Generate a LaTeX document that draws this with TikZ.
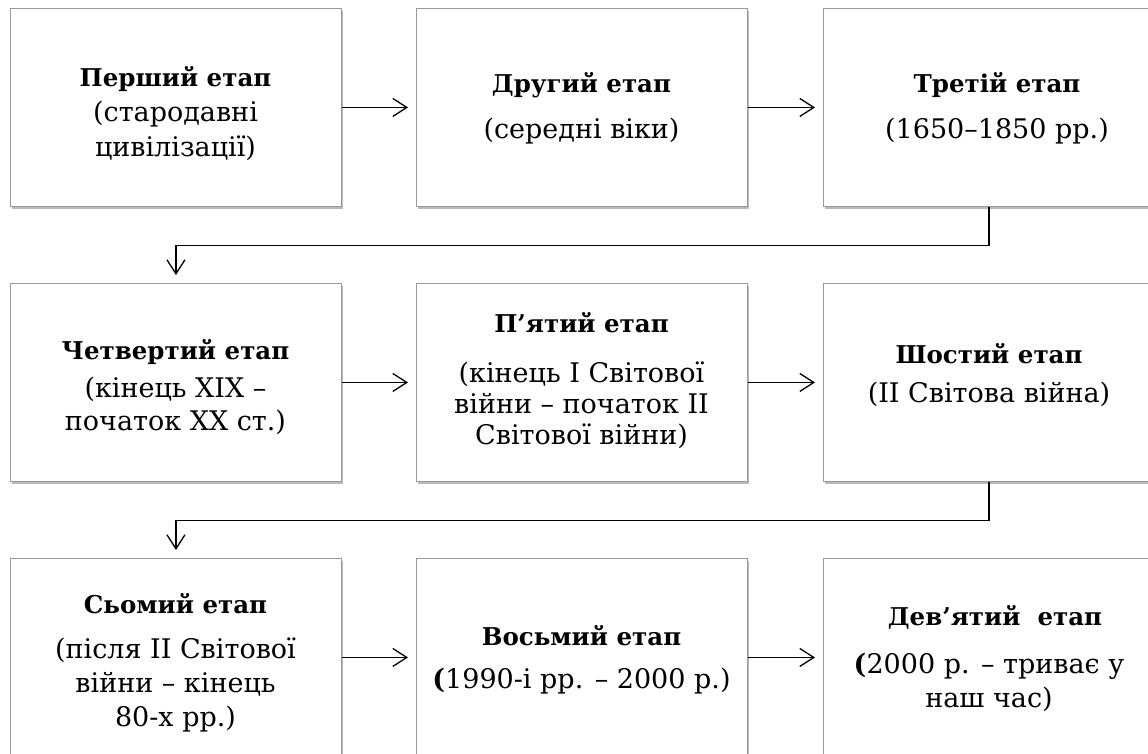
\documentclass[tikz,border=0pt]{standalone}
\usepackage{fontspec}
\setmainfont{DejaVu Serif}
\usetikzlibrary{arrows.meta,shadows,calc}
\begin{document}
\begin{tikzpicture}[x=1pt,y=-1pt,
  stagebox/.style={draw=black!40, line width=0.9pt, fill=white,
    minimum width=331pt, minimum height=198pt, anchor=north west, inner sep=0pt,
    drop shadow={shadow xshift=2pt, shadow yshift=-2.5pt, opacity=0.45, fill=black!60}},
  ttl/.style={anchor=base, inner sep=0pt, font=\fontsize{24.5}{29}\selectfont\bfseries},
  txt/.style={anchor=base, inner sep=0pt, font=\fontsize{27}{32}\selectfont},
  flow/.style={line width=1.3pt, -{Straight Barb[length=14pt,width=18pt]}, shorten >=8pt}
]
\useasboundingbox (0,0) rectangle (1148,754);
\clip (0,0) rectangle (1148,754);
\fill[white] (0,0) rectangle (1148,754);

% boxes
\node[stagebox] (b1) at (10,8) {};
\node[stagebox] (b2) at (416,8) {};
\node[stagebox] (b3) at (823,8) {};
\node[stagebox] (b4) at (10,283) {};
\node[stagebox] (b5) at (416,283) {};
\node[stagebox] (b6) at (823,283) {};
\node[stagebox] (b7) at (10,558) {};
\node[stagebox] (b8) at (416,558) {};
\node[stagebox] (b9) at (823,558) {};

% row 1
\node[ttl] (t1) at (175.5,87) {Перший етап};
\node[txt] (s1a) at (175.5,122) {(стародавні};
\node[txt] (s1b) at (175.5,157) {цивілізації)};
\node[ttl] (t2) at (581.5,93) {Другий етап};
\node[txt] (s2a) at (581.5,139) {(середні віки)};
\node[ttl] (t3) at (997,93) {Третій етап};
\node[txt] (s3a) at (997,139) {(1650–1850 рр.)};

% row 2
\node[ttl] (t4) at (175.5,359) {Четвертий етап};
\node[txt] (s4a) at (175.5,397) {(кінець XIX –};
\node[txt] (s4b) at (175.5,430) {початок XX ст.)};
\node[ttl] (t5) at (581.5,332) {П’ятий етап};
\node[txt] (s5a) at (581.5,382) {(кінець I Світової};
\node[txt] (s5b) at (581.5,413) {війни – початок II};
\node[txt] (s5c) at (581.5,444) {Світової війни)};
\node[ttl] (t6) at (989,363) {Шостий етап};
\node[txt] (s6a) at (989,402) {(II Світова війна)};

% row 3
\node[ttl] (t7) at (175.5,613) {Сьомий етап};
\node[txt] (s7a) at (175.5,658) {(після II Світової};
\node[txt] (s7b) at (175.5,692) {війни – кінець};
\node[txt] (s7c) at (175.5,726) {80-х рр.)};
\node[ttl] (t8) at (581.5,645) {Восьмий етап};
\node[txt] (s8a) at (581.5,688) {{\bfseries(}1990-і рр. – 2000 р.)};
\node[ttl] (t9) at (995,625) {Дев’ятий\ \ етап};
\node[txt] (s9a) at (989,673) {{\bfseries(}2000 р. – триває у};
\node[txt] (s9b) at (989,707) {наш час)};

% connectors
\draw[flow] (b1.east) -- (b2.west);
\draw[flow] (b2.east) -- (b3.west);
\draw[flow] (b3.south) -- ++(0,38.5) -| (b4.north);
\draw[flow] (b4.east) -- (b5.west);
\draw[flow] (b5.east) -- (b6.west);
\draw[flow] (b6.south) -- ++(0,38.5) -| (b7.north);
\draw[flow] (b7.east) -- (b8.west);
\draw[flow] (b8.east) -- (b9.west);
\end{tikzpicture}
\end{document}
